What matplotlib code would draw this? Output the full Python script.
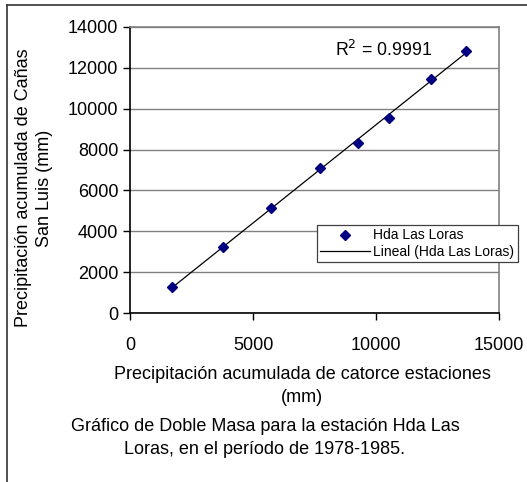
import numpy as np
import matplotlib.pyplot as plt
from matplotlib.lines import Line2D

plt.rcParams['font.family'] = ['Liberation Sans', 'DejaVu Sans']

# Precipitación acumulada (mm)
acum_estaciones = [1695, 3780, 5720, 7724, 9256, 10516, 12248, 13659]
acum_loras = [1258, 3231, 5140, 7113, 8307, 9560, 11469, 12825]
r2_texto = 'R$^2$ = 0.9991'

xticks = [0, 5000, 10000, 15000]
yticks = list(range(0, 14001, 2000))

fig = plt.figure(figsize=(5.27, 4.82), dpi=100)
ax = fig.add_axes([0.2467, 0.3506, 0.7002, 0.5934])

# puntos y recta de regresión
ax.plot(acum_estaciones, acum_loras, linestyle='none', marker='D', markersize=5,
        color='#000080', label='Hda Las Loras', zorder=3)
pend, ordn = np.polyfit(acum_estaciones, acum_loras, 1)
xs = np.array([min(acum_estaciones), max(acum_estaciones)])
ax.plot(xs, pend * xs + ordn, color='black', linewidth=0.9,
        label='Lineal (Hda Las Loras)', zorder=2)

ax.text(8330, 12870, r2_texto, fontsize=12.8, ha='left', va='center')

ax.set_xlim(0, 15000)
ax.set_ylim(0, 14000)
ax.set_xticks(xticks)
ax.set_yticks(yticks)
ax.tick_params(axis='both', direction='out', length=5, width=1, labelsize=13, pad=3.5)
ax.tick_params(axis='x', pad=12)
ax.yaxis.grid(True, color='#808080', linewidth=1)
ax.set_axisbelow(True)
for lado in ['top', 'right']:
    ax.spines[lado].set_color('#808080')
    ax.spines[lado].set_linewidth(1.2)
for lado in ['left', 'bottom']:
    ax.spines[lado].set_color('black')
    ax.spines[lado].set_linewidth(1.2)

# rótulos de los ejes y pie del gráfico
fig.text(34 / 527, 1 - 188 / 482, 'Precipitación acumulada de Cañas\nSan Luis (mm)', rotation=90,
         ha='center', va='center', fontsize=13, linespacing=1.3)
fig.text(302 / 527, 1 - 386 / 482, 'Precipitación acumulada de catorce estaciones\n(mm)',
         ha='center', va='center', fontsize=13, linespacing=1.45)
fig.text(265 / 527, 1 - 438 / 482, 'Gráfico de Doble Masa para la estación Hda Las\nLoras, en el período de 1978-1985.',
         ha='center', va='center', fontsize=13, linespacing=1.4)

leg = ax.legend(loc='upper left', bbox_to_anchor=(317 / 527, 1 - 225 / 482),
                bbox_transform=fig.transFigure, fontsize=10, frameon=True,
                fancybox=False, edgecolor='#404040', framealpha=1, numpoints=1,
                handlelength=3.6, handletextpad=0.2, borderpad=0.25,
                labelspacing=0.15, borderaxespad=0)
leg.get_frame().set_linewidth(0.9)
leg.set_zorder(5)

# marco exterior
fig.add_artist(Line2D([7 / 527, 1], [1 - 5 / 482, 1 - 5 / 482], color='#333333', linewidth=1.2,
                      transform=fig.transFigure))
fig.add_artist(Line2D([7 / 527, 7 / 527], [0, 1 - 5 / 482], color='#333333', linewidth=1.2,
                      transform=fig.transFigure))

fig.savefig('out.png', dpi=100)
